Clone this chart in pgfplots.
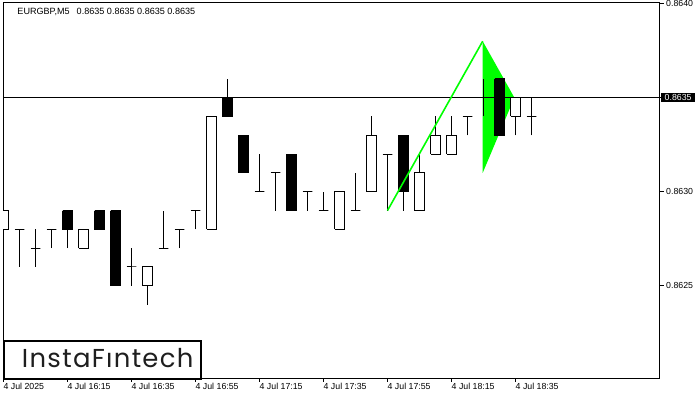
\documentclass[border=0pt]{standalone}
\usepackage{fontspec}
\setmainfont{Liberation Sans}
\newfontfamily\logofont[LetterSpace=5]{Poppins}
\usepackage{pgfplots}
\pgfplotsset{compat=1.18}
\definecolor{flag}{HTML}{00FF00}
\definecolor{logotext}{HTML}{1E1E1E}
\setlength\fboxsep{0pt}

\begin{document}
\begin{tikzpicture}
% page = 700 x 400 px, axis origin at pixel (3,378)
\useasboundingbox (-3bp,-22bp) rectangle (697bp,378bp);
\begin{axis}[
    at={(0,0)}, anchor=south west,
    scale only axis,
    width=656.5bp, height=375bp,
    xmin=-0.03, xmax=41.0,
    ymin=0.86201, ymax=0.864003,
    axis line style={line width=1bp},
    font=\fontsize{8.8}{10}\selectfont,
    /pgf/number format/assume math mode=true,
    xtick={0,4,8,12,16,20,24,28,32},
    xticklabels={4 Jul 2025,4 Jul 16:15,4 Jul 16:35,4 Jul 16:55,4 Jul 17:15,4 Jul 17:35,4 Jul 17:55,4 Jul 18:15,4 Jul 18:35},
    ytick={0.8625,0.863,0.8635,0.864},
    yticklabels={0.8625,0.8630,{\hspace*{-5bp}\colorbox{black}{\rule[-1.6bp]{0pt}{9.4bp}\hspace{3.5bp}\textcolor{white}{0.8635}\hspace{3bp}}},0.8640},
    xtick pos=bottom, ytick pos=right, yticklabel pos=right,
    tick align=outside, major tick length=4bp,
    tick style={black, line width=1bp},
    xticklabel style={anchor=north west, inner sep=0pt, yshift=-1bp},
    yticklabel style={anchor=west, inner sep=0pt, xshift=2.5bp},
    scaled y ticks=false,
]
% pennant (behind the candles)
\addplot[draw=none, fill=flag, forget plot] coordinates {(29.95,0.86380) (29.95,0.86310) (31.93,0.86350) (29.95,0.86380)};

% candles: index / open / high / low / close
\foreach \i/\o/\h/\l/\c in {
  0/0.8628/0.8629/0.8627/0.8629, 1/0.8628/0.8628/0.8626/0.8628,
  2/0.8627/0.8628/0.8626/0.8627, 3/0.8628/0.8628/0.8627/0.8628,
  4/0.8629/0.8629/0.8627/0.8628, 5/0.8627/0.8628/0.8627/0.8628,
  6/0.8629/0.8629/0.8628/0.8628, 7/0.8629/0.8629/0.8625/0.8625,
  8/0.8626/0.8627/0.8625/0.8626, 9/0.8625/0.8626/0.8624/0.8626,
  10/0.8627/0.8629/0.8627/0.8627, 11/0.8628/0.8628/0.8627/0.8628,
  12/0.8629/0.8629/0.8628/0.8629, 13/0.8628/0.8634/0.8628/0.8634,
  14/0.8635/0.8636/0.8634/0.8634, 15/0.8633/0.8633/0.8631/0.8631,
  16/0.8630/0.8632/0.8630/0.8630, 17/0.8631/0.8631/0.8629/0.8631,
  18/0.8632/0.8632/0.8629/0.8629, 19/0.8630/0.8630/0.8629/0.8630,
  20/0.8629/0.8630/0.8629/0.8629, 21/0.8628/0.8630/0.8628/0.8630,
  22/0.8629/0.8631/0.8629/0.8629, 23/0.8630/0.8634/0.8630/0.8633,
  24/0.8632/0.8632/0.8629/0.8632, 25/0.8633/0.8633/0.8629/0.8630,
  26/0.8629/0.8632/0.8629/0.8631, 27/0.8632/0.8634/0.8632/0.8633,
  28/0.8632/0.8634/0.8632/0.8633, 29/0.8634/0.8634/0.8633/0.8634,
  30/0.8635/0.8636/0.8634/0.8635, 31/0.8636/0.8636/0.8633/0.8633,
  32/0.8634/0.8635/0.8633/0.8635, 33/0.8634/0.8635/0.8633/0.8634,
  34/0.8635/0.8635/0.8635/0.8635}{
  \pgfmathsetmacro\xa{\i-0.31}
  \pgfmathsetmacro\xb{\i+0.31}
  \pgfmathtruncatemacro\isdown{\c<\o}
  \ifnum\isdown=1 \def\bc{black}\else\def\bc{white}\fi
  \edef\tmp{
    \noexpand\addplot[black, line width=1bp, forget plot] coordinates {(\i,\l) (\i,\h)};
    \noexpand\addplot[draw=black, fill=\bc, line width=1bp, forget plot]
      coordinates {(\xa,\o) (\xb,\o) (\xb,\c) (\xa,\c) (\xa,\o)};
  }
  \tmp
}

% current price line
\addplot[black, line width=1bp, forget plot] coordinates {(-0.03,0.8635) (41.0,0.8635)};
% flag pole
\addplot[flag, line width=1.6bp, forget plot] coordinates {(24,0.86290) (29.95,0.86380)};
\end{axis}

\node[anchor=base west, inner sep=0pt, font=\fontsize{9.1}{10}\selectfont] at (14.3bp,363bp)
  {EURGBP,M5\hspace{7bp}0.8635 0.8635 0.8635 0.8635};

\draw[line width=2bp, fill=white] (0.8bp,-1.2bp) rectangle (198bp,37bp);
\node[anchor=base, inner sep=0pt, text=logotext, font=\logofont\fontsize{26}{26}\selectfont] at (104.7bp,10.3bp) {InstaFıntech};
\end{tikzpicture}
\end{document}
